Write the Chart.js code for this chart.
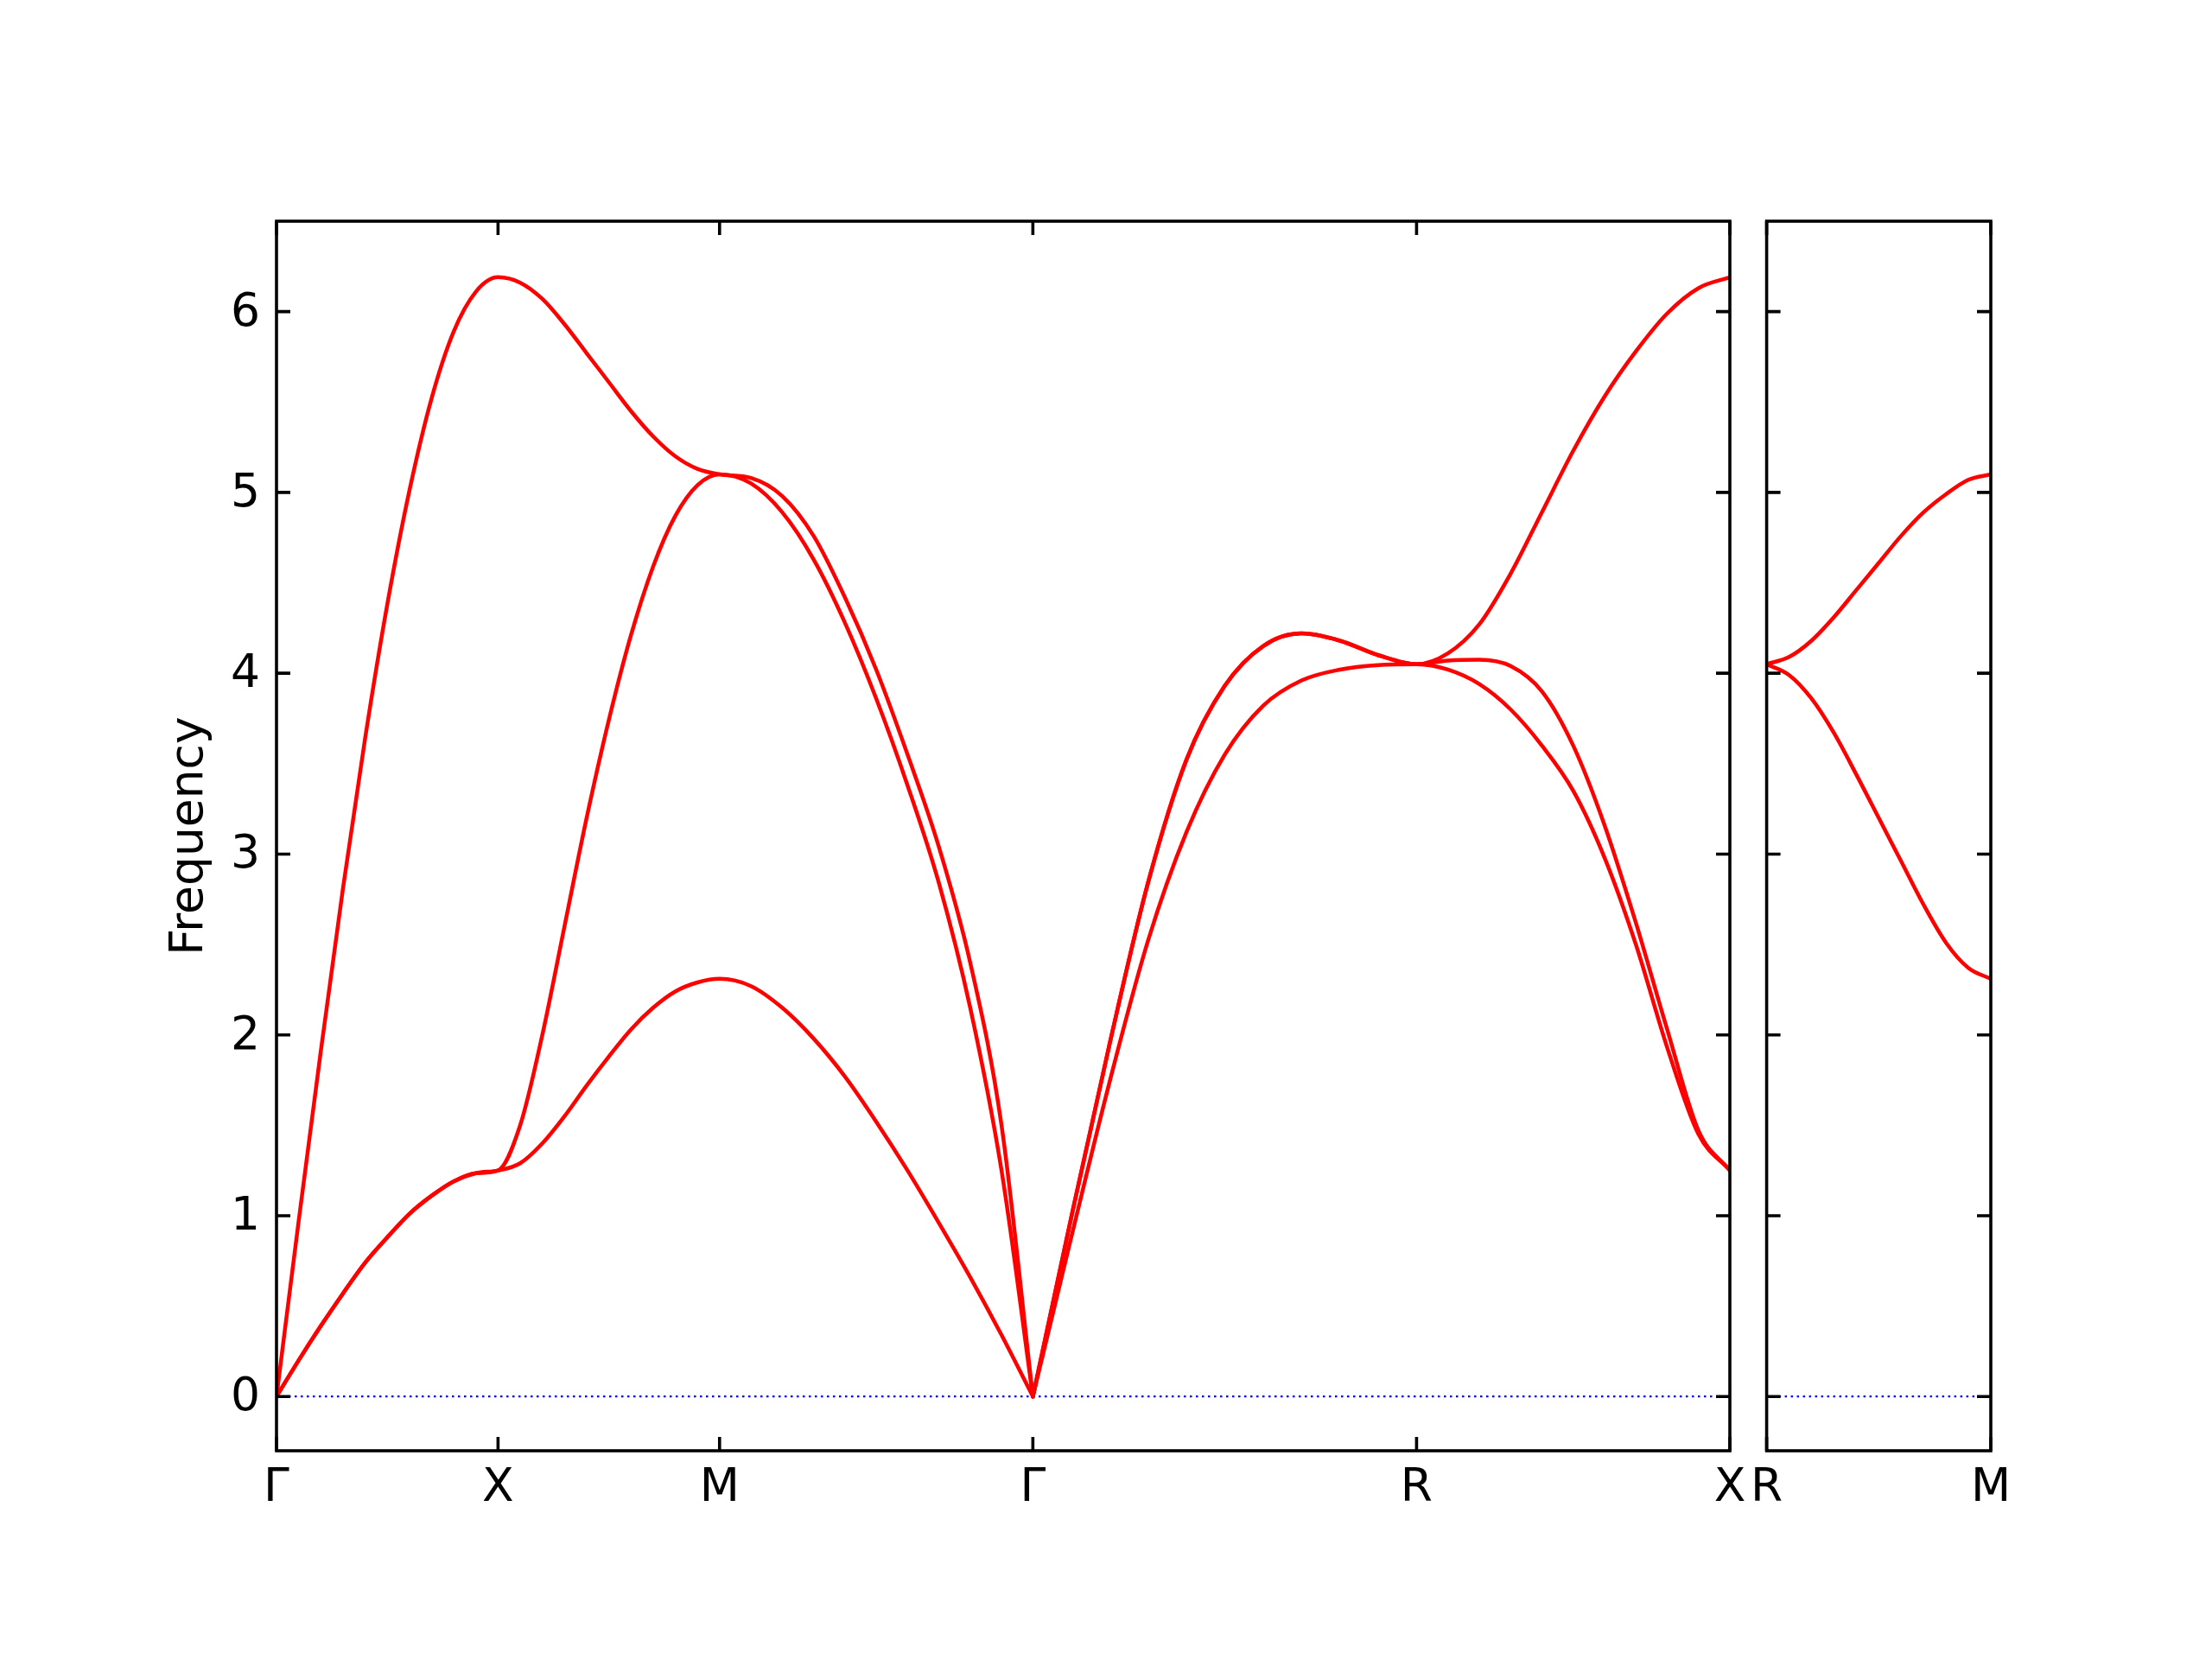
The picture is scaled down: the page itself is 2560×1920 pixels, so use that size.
<!DOCTYPE html>
<html>
<head>
<meta charset="utf-8">
<script src="https://cdn.jsdelivr.net/npm/chart.js@4.4.1/dist/chart.umd.min.js"></script>
<style>
  html, body { margin: 0; padding: 0; background: #fff; }
  #wrap { position: relative; width: 2560px; height: 1920px; background: #fff; }
  #main { position: absolute; left: 0; top: 0; }
  #side { position: absolute; left: 2014px; top: 0; }
</style>
</head>
<body>
<div id="wrap">
  <canvas id="main" width="2040" height="1920" style="width:2040px;height:1920px"></canvas>
  <canvas id="side" width="540" height="1920" style="width:540px;height:1920px"></canvas>
</div>
<script>
// high symmetry points along the path (distance) and their labels
const kLabels = ['Γ', 'X', 'M', 'Γ', 'R', 'X'];
const kTicks = [0, 0.5, 1.0, 1.7071, 2.5731, 3.2802];
const sideLabels = ['R', 'M'];
const sideTicks = [0, 0.5];
const yTicks = [0, 1, 2, 3, 4, 5, 6];

// sample positions inside each segment (fraction of segment length)
const frac = [0, 0.1, 0.2, 0.3, 0.4, 0.5, 0.6, 0.7, 0.8, 0.9, 1.0];

// Γ-X
const gxLow = [0, 0.20, 0.39, 0.57, 0.74, 0.88, 1.01, 1.11, 1.19, 1.235, 1.25];
const gxTop = [0, 0.97, 1.91, 2.81, 3.64, 4.38, 5.01, 5.52, 5.89, 6.11, 6.19];
// X-M
const xmLow = [1.25, 1.29, 1.40, 1.55, 1.72, 1.88, 2.03, 2.15, 2.24, 2.29, 2.31];
const xmMid = [1.25, 1.50, 2.00, 2.60, 3.20, 3.74, 4.21, 4.59, 4.87, 5.04, 5.10];
const xmTop = [6.19, 6.16, 6.07, 5.93, 5.77, 5.61, 5.45, 5.31, 5.20, 5.13, 5.10];
// M-Γ
const mgLow = [2.31, 2.27, 2.15, 1.98, 1.77, 1.52, 1.25, 0.96, 0.66, 0.34, 0];
const mgMid = [5.10, 5.05, 4.89, 4.63, 4.28, 3.86, 3.38, 2.84, 2.15, 1.25, 0];
const mgTop = [5.10, 5.08, 4.98, 4.76, 4.42, 4.02, 3.55, 3.04, 2.40, 1.50, 0];
// Γ-R
const grLow = [0, 0.88, 1.74, 2.52, 3.12, 3.55, 3.82, 3.96, 4.02, 4.045, 4.05];
const grTop = [0, 0.99, 1.95, 2.84, 3.52, 3.93, 4.15, 4.22, 4.18, 4.10, 4.05];
// R-X
const rxLow = [4.05, 4.02, 3.94, 3.80, 3.60, 3.35, 2.98, 2.50, 1.93, 1.45, 1.25];
const rxMid = [4.05, 4.07, 4.075, 4.04, 3.90, 3.60, 3.16, 2.62, 2.03, 1.47, 1.25];
const rxTop = [4.05, 4.11, 4.27, 4.55, 4.89, 5.23, 5.53, 5.78, 5.99, 6.13, 6.19];
// R-M (side panel)
const rmLow = [4.05, 3.99, 3.86, 3.67, 3.44, 3.20, 2.96, 2.72, 2.51, 2.37, 2.31];
const rmTop = [4.05, 4.09, 4.18, 4.31, 4.46, 4.61, 4.76, 4.89, 4.99, 5.07, 5.10];

// each branch is drawn as one smooth run between cusps at Γ;
// entries are [segment start index, values] per segment
const mainRuns = [
  [[0, gxLow], [1, xmLow], [2, mgLow]],
  [[0, gxLow], [1, xmMid], [2, mgMid]],
  [[0, gxTop], [1, xmTop], [2, mgTop]],
  [[3, grLow], [4, rxLow]],
  [[3, grTop], [4, rxMid]],
  [[3, grTop], [4, rxTop]]
];
const sideRuns = [
  [[0, rmLow]],
  [[0, rmTop]]
];

const FONT = 'DejaVu Sans';
const FONT_SIZE = 53.5;

function runPoints(ticks, run) {
  const pts = [];
  run.forEach(([s, vals], k) => {
    const x0 = ticks[s], x1 = ticks[s + 1];
    vals.forEach((v, i) => {
      if (k > 0 && i === 0) return; // shared end point
      pts.push({ x: x0 + (x1 - x0) * frac[i], y: v });
    });
  });
  return pts;
}

function bandLine(points) {
  return {
    data: points,
    borderColor: '#ff0000',
    borderWidth: 4.5,
    pointRadius: 0,
    fill: false,
    cubicInterpolationMode: 'monotone',
    borderCapStyle: 'round',
    borderJoinStyle: 'round',
    order: 0
  };
}

function zeroLine(x0, x1) {
  return {
    data: [{ x: x0, y: 0 }, { x: x1, y: 0 }],
    borderColor: '#0000ff',
    borderWidth: 2.2,
    borderDash: [2.5, 4.5],
    pointRadius: 0,
    fill: false,
    order: 1
  };
}

function buildDatasets(ticks, runs) {
  const sets = runs.map(run => bandLine(runPoints(ticks, run)));
  sets.push(zeroLine(ticks[0], ticks[ticks.length - 1]));
  return sets;
}

// box round the plot, ticks pointing inwards
const framePlugin = {
  id: 'frame',
  afterDraw(chart, args, opts) {
    const { ctx, chartArea: a, scales } = chart;
    const len = 16;
    ctx.save();
    ctx.strokeStyle = '#000';
    ctx.lineWidth = 3.6;
    ctx.lineJoin = 'miter';
    ctx.strokeRect(a.left, a.top, a.right - a.left, a.bottom - a.top);
    ctx.beginPath();
    opts.xTicks.forEach(v => {
      const px = scales.x.getPixelForValue(v);
      ctx.moveTo(px, a.bottom); ctx.lineTo(px, a.bottom - len);
      ctx.moveTo(px, a.top); ctx.lineTo(px, a.top + len);
    });
    yTicks.forEach(v => {
      const py = scales.y.getPixelForValue(v);
      ctx.moveTo(a.left, py); ctx.lineTo(a.left + len, py);
      ctx.moveTo(a.right, py); ctx.lineTo(a.right - len, py);
    });
    ctx.stroke();
    ctx.restore();
  }
};

function xAxis(ticks, labels) {
  return {
    type: 'linear',
    min: ticks[0],
    max: ticks[ticks.length - 1],
    afterBuildTicks: scale => { scale.ticks = ticks.map(v => ({ value: v })); },
    afterFit: scale => { scale.height = 100; },
    grid: { display: false, drawTicks: false },
    border: { display: false },
    ticks: {
      autoSkip: false,
      maxRotation: 0,
      minRotation: 0,
      padding: 12,
      color: '#000',
      font: { family: FONT, size: FONT_SIZE },
      callback: (v, i) => labels[i]
    }
  };
}

function yAxis(show) {
  return {
    type: 'linear',
    display: show,
    min: -0.3,
    max: 6.5,
    afterBuildTicks: scale => { scale.ticks = yTicks.map(v => ({ value: v })); },
    afterFit: scale => { scale.width = show ? 132 : 0; },
    grid: { display: false, drawTicks: false },
    border: { display: false },
    ticks: {
      padding: 19,
      labelOffset: 2,
      color: '#000',
      font: { family: FONT, size: FONT_SIZE }
    },
    title: {
      display: show,
      text: 'Frequency',
      color: '#000',
      padding: 0,
      font: { family: FONT, size: FONT_SIZE, lineHeight: 1.2 }
    }
  };
}

function makeChart(id, ticks, labels, runs, showY, padding) {
  return new Chart(document.getElementById(id).getContext('2d'), {
    type: 'line',
    data: { datasets: buildDatasets(ticks, runs) },
    options: {
      responsive: false,
      animation: false,
      events: [],
      layout: { padding: padding },
      plugins: {
        legend: { display: false },
        tooltip: { enabled: false },
        frame: { xTicks: ticks }
      },
      scales: {
        x: xAxis(ticks, labels),
        y: yAxis(showY)
      }
    },
    plugins: [framePlugin]
  });
}

makeChart('main', kTicks, kLabels, mainRuns, true, { left: 188, right: 38, top: 256, bottom: 141 });
makeChart('side', sideTicks, sideLabels, sideRuns, false, { left: 27, right: 250, top: 256, bottom: 141 });
</script>
</body>
</html>
